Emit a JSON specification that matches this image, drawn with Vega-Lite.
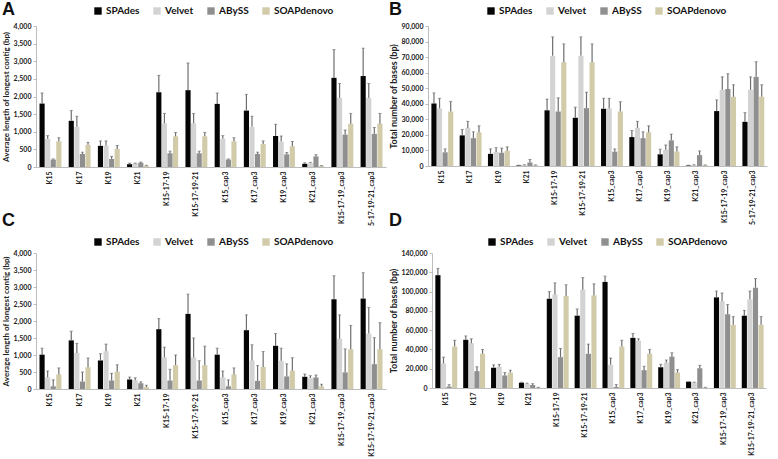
{
  "$schema": "https://vega.github.io/schema/vega-lite/v6.json",
  "background": "white",
  "padding": {"left": 2, "top": 1, "right": 5, "bottom": 2},
  "config": {
    "view": {"stroke": null},
    "axis": {"grid": false, "domainColor": "#bdbdbd", "tickColor": "#bdbdbd", "labelColor": "#222222", "titleColor": "#222222", "labelFont": "Lato", "titleFont": "Lato", "labelFontWeight": "bold", "titleFontWeight": "bold"},
    "axisY": {"labelOverlap": false, "format": ",.0f", "labelFontSize": 7, "tickSize": 3, "labelPadding": 2, "titlePadding": 3},
    "axisX": {"title": null, "labelAngle": -90, "labelFontSize": 7, "ticks": false, "labelPadding": 4},
    "legend": {"orient": "none", "direction": "horizontal", "columns": 4, "title": null, "symbolType": "square", "symbolSize": 55, "symbolStrokeWidth": 0, "labelFont": "Lato", "labelFontWeight": "bold", "labelFontSize": 10, "labelColor": "#111111", "columnPadding": 12, "labelOffset": 3},
    "title": {"font": "Liberation Sans", "fontWeight": "bold", "fontSize": 18, "anchor": "start", "frame": "bounds", "color": "#111111"}
  },
  "datasets": {
    "a": [
      {"assembly": "K15", "assembler": "SPAdes", "value": 1800, "upper": 2100},
      {"assembly": "K15", "assembler": "Velvet", "value": 800, "upper": 890},
      {"assembly": "K15", "assembler": "ABySS", "value": 210, "upper": 230},
      {"assembly": "K15", "assembler": "SOAPdenovo", "value": 730, "upper": 830},
      {"assembly": "K17", "assembler": "SPAdes", "value": 1310, "upper": 1600},
      {"assembly": "K17", "assembler": "Velvet", "value": 1140, "upper": 1440},
      {"assembly": "K17", "assembler": "ABySS", "value": 370, "upper": 420},
      {"assembly": "K17", "assembler": "SOAPdenovo", "value": 630, "upper": 700},
      {"assembly": "K19", "assembler": "SPAdes", "value": 600, "upper": 740},
      {"assembly": "K19", "assembler": "Velvet", "value": 610, "upper": 740},
      {"assembly": "K19", "assembler": "ABySS", "value": 230, "upper": 300},
      {"assembly": "K19", "assembler": "SOAPdenovo", "value": 510, "upper": 610},
      {"assembly": "K21", "assembler": "SPAdes", "value": 80, "upper": 110},
      {"assembly": "K21", "assembler": "Velvet", "value": 100, "upper": 110},
      {"assembly": "K21", "assembler": "ABySS", "value": 120, "upper": 140},
      {"assembly": "K21", "assembler": "SOAPdenovo", "value": 40, "upper": 50},
      {"assembly": "K15-17-19", "assembler": "SPAdes", "value": 2120, "upper": 2600},
      {"assembly": "K15-17-19", "assembler": "Velvet", "value": 1240, "upper": 1520},
      {"assembly": "K15-17-19", "assembler": "ABySS", "value": 390, "upper": 450},
      {"assembly": "K15-17-19", "assembler": "SOAPdenovo", "value": 870, "upper": 980},
      {"assembly": "K15-17-19-21", "assembler": "SPAdes", "value": 2180, "upper": 2950},
      {"assembly": "K15-17-19-21", "assembler": "Velvet", "value": 1240, "upper": 1520},
      {"assembly": "K15-17-19-21", "assembler": "ABySS", "value": 390, "upper": 450},
      {"assembly": "K15-17-19-21", "assembler": "SOAPdenovo", "value": 870, "upper": 980},
      {"assembly": "K15_cap3", "assembler": "SPAdes", "value": 1790, "upper": 2100},
      {"assembly": "K15_cap3", "assembler": "Velvet", "value": 800, "upper": 890},
      {"assembly": "K15_cap3", "assembler": "ABySS", "value": 210, "upper": 230},
      {"assembly": "K15_cap3", "assembler": "SOAPdenovo", "value": 730, "upper": 830},
      {"assembly": "K17_cap3", "assembler": "SPAdes", "value": 1600, "upper": 2060},
      {"assembly": "K17_cap3", "assembler": "Velvet", "value": 1140, "upper": 1440},
      {"assembly": "K17_cap3", "assembler": "ABySS", "value": 370, "upper": 420},
      {"assembly": "K17_cap3", "assembler": "SOAPdenovo", "value": 650, "upper": 740},
      {"assembly": "K19_cap3", "assembler": "SPAdes", "value": 880, "upper": 1210},
      {"assembly": "K19_cap3", "assembler": "Velvet", "value": 720, "upper": 880},
      {"assembly": "K19_cap3", "assembler": "ABySS", "value": 360, "upper": 410},
      {"assembly": "K19_cap3", "assembler": "SOAPdenovo", "value": 590, "upper": 720},
      {"assembly": "K21_cap3", "assembler": "SPAdes", "value": 90, "upper": 120},
      {"assembly": "K21_cap3", "assembler": "Velvet", "value": 110, "upper": 130},
      {"assembly": "K21_cap3", "assembler": "ABySS", "value": 300, "upper": 350},
      {"assembly": "K21_cap3", "assembler": "SOAPdenovo", "value": 30, "upper": 40},
      {"assembly": "K15-17-19_cap3", "assembler": "SPAdes", "value": 2530, "upper": 3330},
      {"assembly": "K15-17-19_cap3", "assembler": "Velvet", "value": 1960, "upper": 2370},
      {"assembly": "K15-17-19_cap3", "assembler": "ABySS", "value": 920, "upper": 1050},
      {"assembly": "K15-17-19_cap3", "assembler": "SOAPdenovo", "value": 1230, "upper": 1520},
      {"assembly": "5-17-19-21_cap3", "assembler": "SPAdes", "value": 2580, "upper": 3370},
      {"assembly": "5-17-19-21_cap3", "assembler": "Velvet", "value": 1960, "upper": 2370},
      {"assembly": "5-17-19-21_cap3", "assembler": "ABySS", "value": 940, "upper": 1120},
      {"assembly": "5-17-19-21_cap3", "assembler": "SOAPdenovo", "value": 1230, "upper": 1520}
    ],
    "b": [
      {"assembly": "K15", "assembler": "SPAdes", "value": 40200, "upper": 47000},
      {"assembly": "K15", "assembler": "Velvet", "value": 37000, "upper": 43500},
      {"assembly": "K15", "assembler": "ABySS", "value": 8800, "upper": 11000},
      {"assembly": "K15", "assembler": "SOAPdenovo", "value": 35000, "upper": 41500},
      {"assembly": "K17", "assembler": "SPAdes", "value": 19700, "upper": 23500},
      {"assembly": "K17", "assembler": "Velvet", "value": 24500, "upper": 28700},
      {"assembly": "K17", "assembler": "ABySS", "value": 17900, "upper": 22000},
      {"assembly": "K17", "assembler": "SOAPdenovo", "value": 21600, "upper": 25800},
      {"assembly": "K19", "assembler": "SPAdes", "value": 7800, "upper": 11000},
      {"assembly": "K19", "assembler": "Velvet", "value": 9000, "upper": 11800},
      {"assembly": "K19", "assembler": "ABySS", "value": 8500, "upper": 11500},
      {"assembly": "K19", "assembler": "SOAPdenovo", "value": 9800, "upper": 12300},
      {"assembly": "K21", "assembler": "SPAdes", "value": 300, "upper": 500},
      {"assembly": "K21", "assembler": "Velvet", "value": 500, "upper": 800},
      {"assembly": "K21", "assembler": "ABySS", "value": 2300, "upper": 4200},
      {"assembly": "K21", "assembler": "SOAPdenovo", "value": 500, "upper": 700},
      {"assembly": "K15-17-19", "assembler": "SPAdes", "value": 35800, "upper": 43000},
      {"assembly": "K15-17-19", "assembler": "Velvet", "value": 70800, "upper": 83000},
      {"assembly": "K15-17-19", "assembler": "ABySS", "value": 35000, "upper": 43800},
      {"assembly": "K15-17-19", "assembler": "SOAPdenovo", "value": 66700, "upper": 78500},
      {"assembly": "K15-17-19-21", "assembler": "SPAdes", "value": 31000, "upper": 37800},
      {"assembly": "K15-17-19-21", "assembler": "Velvet", "value": 70800, "upper": 83000},
      {"assembly": "K15-17-19-21", "assembler": "ABySS", "value": 37200, "upper": 47400},
      {"assembly": "K15-17-19-21", "assembler": "SOAPdenovo", "value": 66700, "upper": 78500},
      {"assembly": "K15_cap3", "assembler": "SPAdes", "value": 36800, "upper": 43500},
      {"assembly": "K15_cap3", "assembler": "Velvet", "value": 37000, "upper": 43500},
      {"assembly": "K15_cap3", "assembler": "ABySS", "value": 9200, "upper": 11000},
      {"assembly": "K15_cap3", "assembler": "SOAPdenovo", "value": 35000, "upper": 41300},
      {"assembly": "K17_cap3", "assembler": "SPAdes", "value": 18600, "upper": 22800},
      {"assembly": "K17_cap3", "assembler": "Velvet", "value": 24500, "upper": 28700},
      {"assembly": "K17_cap3", "assembler": "ABySS", "value": 17900, "upper": 22000},
      {"assembly": "K17_cap3", "assembler": "SOAPdenovo", "value": 21600, "upper": 25800},
      {"assembly": "K19_cap3", "assembler": "SPAdes", "value": 7500, "upper": 10800},
      {"assembly": "K19_cap3", "assembler": "Velvet", "value": 10500, "upper": 13500},
      {"assembly": "K19_cap3", "assembler": "ABySS", "value": 16500, "upper": 20500},
      {"assembly": "K19_cap3", "assembler": "SOAPdenovo", "value": 9300, "upper": 12300},
      {"assembly": "K21_cap3", "assembler": "SPAdes", "value": 300, "upper": 500},
      {"assembly": "K21_cap3", "assembler": "Velvet", "value": 500, "upper": 800},
      {"assembly": "K21_cap3", "assembler": "ABySS", "value": 7000, "upper": 9700},
      {"assembly": "K21_cap3", "assembler": "SOAPdenovo", "value": 500, "upper": 700},
      {"assembly": "K15-17-19_cap3", "assembler": "SPAdes", "value": 35300, "upper": 42500},
      {"assembly": "K15-17-19_cap3", "assembler": "Velvet", "value": 49000, "upper": 57300},
      {"assembly": "K15-17-19_cap3", "assembler": "ABySS", "value": 49500, "upper": 59300},
      {"assembly": "K15-17-19_cap3", "assembler": "SOAPdenovo", "value": 44500, "upper": 52200},
      {"assembly": "5-17-19-21_cap3", "assembler": "SPAdes", "value": 28400, "upper": 34300},
      {"assembly": "5-17-19-21_cap3", "assembler": "Velvet", "value": 49000, "upper": 57300},
      {"assembly": "5-17-19-21_cap3", "assembler": "ABySS", "value": 57300, "upper": 67000},
      {"assembly": "5-17-19-21_cap3", "assembler": "SOAPdenovo", "value": 44500, "upper": 52200}
    ],
    "c": [
      {"assembly": "K15", "assembler": "SPAdes", "value": 1010, "upper": 1200},
      {"assembly": "K15", "assembler": "Velvet", "value": 340, "upper": 530},
      {"assembly": "K15", "assembler": "ABySS", "value": 80, "upper": 270},
      {"assembly": "K15", "assembler": "SOAPdenovo", "value": 430, "upper": 620},
      {"assembly": "K17", "assembler": "SPAdes", "value": 1430, "upper": 1700},
      {"assembly": "K17", "assembler": "Velvet", "value": 1060, "upper": 1340},
      {"assembly": "K17", "assembler": "ABySS", "value": 220, "upper": 500},
      {"assembly": "K17", "assembler": "SOAPdenovo", "value": 640, "upper": 910},
      {"assembly": "K19", "assembler": "SPAdes", "value": 840, "upper": 1040},
      {"assembly": "K19", "assembler": "Velvet", "value": 1110, "upper": 1320},
      {"assembly": "K19", "assembler": "ABySS", "value": 250, "upper": 460},
      {"assembly": "K19", "assembler": "SOAPdenovo", "value": 510, "upper": 710},
      {"assembly": "K21", "assembler": "SPAdes", "value": 280, "upper": 350},
      {"assembly": "K21", "assembler": "Velvet", "value": 260, "upper": 330},
      {"assembly": "K21", "assembler": "ABySS", "value": 170, "upper": 210},
      {"assembly": "K21", "assembler": "SOAPdenovo", "value": 60, "upper": 110},
      {"assembly": "K15-17-19", "assembler": "SPAdes", "value": 1760, "upper": 2070},
      {"assembly": "K15-17-19", "assembler": "Velvet", "value": 930, "upper": 1230},
      {"assembly": "K15-17-19", "assembler": "ABySS", "value": 250, "upper": 580},
      {"assembly": "K15-17-19", "assembler": "SOAPdenovo", "value": 700, "upper": 1000},
      {"assembly": "K15-17-19-21", "assembler": "SPAdes", "value": 2210, "upper": 2790},
      {"assembly": "K15-17-19-21", "assembler": "Velvet", "value": 930, "upper": 1500},
      {"assembly": "K15-17-19-21", "assembler": "ABySS", "value": 250, "upper": 830},
      {"assembly": "K15-17-19-21", "assembler": "SOAPdenovo", "value": 700, "upper": 1260},
      {"assembly": "K15_cap3", "assembler": "SPAdes", "value": 1010, "upper": 1200},
      {"assembly": "K15_cap3", "assembler": "Velvet", "value": 340, "upper": 530},
      {"assembly": "K15_cap3", "assembler": "ABySS", "value": 80, "upper": 270},
      {"assembly": "K15_cap3", "assembler": "SOAPdenovo", "value": 430, "upper": 620},
      {"assembly": "K17_cap3", "assembler": "SPAdes", "value": 1730, "upper": 2180},
      {"assembly": "K17_cap3", "assembler": "Velvet", "value": 840, "upper": 1300},
      {"assembly": "K17_cap3", "assembler": "ABySS", "value": 240, "upper": 690},
      {"assembly": "K17_cap3", "assembler": "SOAPdenovo", "value": 650, "upper": 1100},
      {"assembly": "K19_cap3", "assembler": "SPAdes", "value": 1270, "upper": 1630},
      {"assembly": "K19_cap3", "assembler": "Velvet", "value": 830, "upper": 1200},
      {"assembly": "K19_cap3", "assembler": "ABySS", "value": 370, "upper": 740},
      {"assembly": "K19_cap3", "assembler": "SOAPdenovo", "value": 540, "upper": 920},
      {"assembly": "K21_cap3", "assembler": "SPAdes", "value": 360, "upper": 440},
      {"assembly": "K21_cap3", "assembler": "Velvet", "value": 320, "upper": 390},
      {"assembly": "K21_cap3", "assembler": "ABySS", "value": 340, "upper": 410},
      {"assembly": "K21_cap3", "assembler": "SOAPdenovo", "value": 80, "upper": 140},
      {"assembly": "K15-17-19_cap3", "assembler": "SPAdes", "value": 2640, "upper": 3330},
      {"assembly": "K15-17-19_cap3", "assembler": "Velvet", "value": 1480, "upper": 2180},
      {"assembly": "K15-17-19_cap3", "assembler": "ABySS", "value": 490, "upper": 1180},
      {"assembly": "K15-17-19_cap3", "assembler": "SOAPdenovo", "value": 1170, "upper": 1870},
      {"assembly": "K15-17-19-21_cap3", "assembler": "SPAdes", "value": 2660, "upper": 3420},
      {"assembly": "K15-17-19-21_cap3", "assembler": "Velvet", "value": 1630, "upper": 2400},
      {"assembly": "K15-17-19-21_cap3", "assembler": "ABySS", "value": 730, "upper": 1510},
      {"assembly": "K15-17-19-21_cap3", "assembler": "SOAPdenovo", "value": 1170, "upper": 1950}
    ],
    "d": [
      {"assembly": "K15", "assembler": "SPAdes", "value": 117000, "upper": 124000},
      {"assembly": "K15", "assembler": "Velvet", "value": 25500, "upper": 32000},
      {"assembly": "K15", "assembler": "ABySS", "value": 1500, "upper": 3500},
      {"assembly": "K15", "assembler": "SOAPdenovo", "value": 43000, "upper": 49500},
      {"assembly": "K17", "assembler": "SPAdes", "value": 50000, "upper": 54000},
      {"assembly": "K17", "assembler": "Velvet", "value": 46500, "upper": 51000},
      {"assembly": "K17", "assembler": "ABySS", "value": 17500, "upper": 22000},
      {"assembly": "K17", "assembler": "SOAPdenovo", "value": 35500, "upper": 40000},
      {"assembly": "K19", "assembler": "SPAdes", "value": 21000, "upper": 24000},
      {"assembly": "K19", "assembler": "Velvet", "value": 22000, "upper": 24500},
      {"assembly": "K19", "assembler": "ABySS", "value": 13000, "upper": 16000},
      {"assembly": "K19", "assembler": "SOAPdenovo", "value": 16000, "upper": 18500},
      {"assembly": "K21", "assembler": "SPAdes", "value": 5500, "upper": 6000},
      {"assembly": "K21", "assembler": "Velvet", "value": 4500, "upper": 5000},
      {"assembly": "K21", "assembler": "ABySS", "value": 3000, "upper": 4500},
      {"assembly": "K21", "assembler": "SOAPdenovo", "value": 500, "upper": 700},
      {"assembly": "K15-17-19", "assembler": "SPAdes", "value": 92500, "upper": 100000},
      {"assembly": "K15-17-19", "assembler": "Velvet", "value": 97000, "upper": 109000},
      {"assembly": "K15-17-19", "assembler": "ABySS", "value": 32000, "upper": 41000},
      {"assembly": "K15-17-19", "assembler": "SOAPdenovo", "value": 95500, "upper": 107000},
      {"assembly": "K15-17-19-21", "assembler": "SPAdes", "value": 75000, "upper": 82000},
      {"assembly": "K15-17-19-21", "assembler": "Velvet", "value": 102000, "upper": 114500},
      {"assembly": "K15-17-19-21", "assembler": "ABySS", "value": 35500, "upper": 45500},
      {"assembly": "K15-17-19-21", "assembler": "SOAPdenovo", "value": 96000, "upper": 108000},
      {"assembly": "K15_cap3", "assembler": "SPAdes", "value": 110000, "upper": 116000},
      {"assembly": "K15_cap3", "assembler": "Velvet", "value": 24000, "upper": 31000},
      {"assembly": "K15_cap3", "assembler": "ABySS", "value": 1000, "upper": 3500},
      {"assembly": "K15_cap3", "assembler": "SOAPdenovo", "value": 43000, "upper": 49500},
      {"assembly": "K17_cap3", "assembler": "SPAdes", "value": 52000, "upper": 56500},
      {"assembly": "K17_cap3", "assembler": "Velvet", "value": 49000, "upper": 51000},
      {"assembly": "K17_cap3", "assembler": "ABySS", "value": 18500, "upper": 22500},
      {"assembly": "K17_cap3", "assembler": "SOAPdenovo", "value": 35500, "upper": 40000},
      {"assembly": "K19_cap3", "assembler": "SPAdes", "value": 21500, "upper": 24500},
      {"assembly": "K19_cap3", "assembler": "Velvet", "value": 26500, "upper": 29000},
      {"assembly": "K19_cap3", "assembler": "ABySS", "value": 32500, "upper": 36500},
      {"assembly": "K19_cap3", "assembler": "SOAPdenovo", "value": 16000, "upper": 19000},
      {"assembly": "K21_cap3", "assembler": "SPAdes", "value": 6500, "upper": 6600},
      {"assembly": "K21_cap3", "assembler": "Velvet", "value": 5500, "upper": 6000},
      {"assembly": "K21_cap3", "assembler": "ABySS", "value": 20500, "upper": 23500},
      {"assembly": "K21_cap3", "assembler": "SOAPdenovo", "value": 500, "upper": 700},
      {"assembly": "K15-17-19_cap3", "assembler": "SPAdes", "value": 94000, "upper": 100500},
      {"assembly": "K15-17-19_cap3", "assembler": "Velvet", "value": 90000, "upper": 98500},
      {"assembly": "K15-17-19_cap3", "assembler": "ABySS", "value": 76500, "upper": 86500},
      {"assembly": "K15-17-19_cap3", "assembler": "SOAPdenovo", "value": 65500, "upper": 74000},
      {"assembly": "K15-17-19-21_cap3", "assembler": "SPAdes", "value": 75000, "upper": 80500},
      {"assembly": "K15-17-19-21_cap3", "assembler": "Velvet", "value": 92000, "upper": 100500},
      {"assembly": "K15-17-19-21_cap3", "assembler": "ABySS", "value": 104000, "upper": 113500},
      {"assembly": "K15-17-19-21_cap3", "assembler": "SOAPdenovo", "value": 65500, "upper": 74000}
    ]
  },
  "spacing": -14,
  "resolve": {"scale": {"color": "independent"}, "legend": {"color": "independent"}},
  "vconcat": [
    {
      "spacing": 3,
      "resolve": {"scale": {"color": "independent"}, "legend": {"color": "independent"}},
      "hconcat": [
        {
          "width": 350, "height": 141,
          "title": {"text": "A", "offset": -13},
          "data": {"name": "a"},
          "encoding": {
            "x": {"field": "assembly", "type": "nominal", "sort": null, "scale": {"paddingInner": 0.25, "paddingOuter": 0.12}},
            "xOffset": {"field": "assembler", "type": "nominal", "sort": ["SPAdes", "Velvet", "ABySS", "SOAPdenovo"], "scale": {"paddingInner": 0.08}},
            "y": {"field": "value", "type": "quantitative", "scale": {"domain": [0, 4000]}, "axis": {"title": "Average length of longest contig (bp)", "values": [0, 500, 1000, 1500, 2000, 2500, 3000, 3500, 4000], "labelOverlap": false, "titleFontSize": 8}}
          },
          "layer": [
            {"mark": {"type": "bar"}, "encoding": {
              "color": {"field": "assembler", "type": "nominal", "sort": ["SPAdes", "Velvet", "ABySS", "SOAPdenovo"], "scale": {"domain": ["SPAdes", "Velvet", "ABySS", "SOAPdenovo"], "range": ["#050505", "#d3d3d3", "#8f8f8f", "#d1cbaa"]}, "legend": {"legendX": 57, "legendY": -20}}
            }},
            {"mark": {"type": "rule", "color": "#6e6e6e", "strokeWidth": 1.2}, "encoding": {"y2": {"field": "upper"}}},
            {"mark": {"type": "tick", "color": "#6e6e6e", "size": 3, "thickness": 1}, "encoding": {"y": {"field": "upper", "type": "quantitative", "axis": {"title": "Average length of longest contig (bp)", "values": [0, 500, 1000, 1500, 2000, 2500, 3000, 3500, 4000], "labelOverlap": false, "titleFontSize": 8}}}},
            {"data": {"values": [{"label": "21-22nt"}]}, "mark": {"type": "text", "align": "left", "baseline": "middle", "font": "Liberation Sans", "fontSize": 13, "color": "#111111", "dx": 10}, "encoding": {"x": {"datum": "K15"}, "xOffset": null, "y": {"datum": 3234}, "text": {"field": "label"}}}
          ]
        },
        {
          "width": 339, "height": 140,
          "title": {"text": "B", "offset": -13},
          "data": {"name": "b"},
          "encoding": {
            "x": {"field": "assembly", "type": "nominal", "sort": null, "scale": {"paddingInner": 0.25, "paddingOuter": 0.12}},
            "xOffset": {"field": "assembler", "type": "nominal", "sort": ["SPAdes", "Velvet", "ABySS", "SOAPdenovo"], "scale": {"paddingInner": 0.08}},
            "y": {"field": "value", "type": "quantitative", "scale": {"domain": [0, 90000]}, "axis": {"title": "Total number of bases (bp)", "values": [0, 10000, 20000, 30000, 40000, 50000, 60000, 70000, 80000, 90000], "labelOverlap": false, "titleFontSize": 9}}
          },
          "layer": [
            {"mark": {"type": "bar"}, "encoding": {
              "color": {"field": "assembler", "type": "nominal", "sort": ["SPAdes", "Velvet", "ABySS", "SOAPdenovo"], "scale": {"domain": ["SPAdes", "Velvet", "ABySS", "SOAPdenovo"], "range": ["#050505", "#d3d3d3", "#8f8f8f", "#d1cbaa"]}, "legend": {"legendX": 58, "legendY": -20}}
            }},
            {"mark": {"type": "rule", "color": "#6e6e6e", "strokeWidth": 1.2}, "encoding": {"y2": {"field": "upper"}}},
            {"mark": {"type": "tick", "color": "#6e6e6e", "size": 3, "thickness": 1}, "encoding": {"y": {"field": "upper", "type": "quantitative", "axis": {"title": "Total number of bases (bp)", "values": [0, 10000, 20000, 30000, 40000, 50000, 60000, 70000, 80000, 90000], "labelOverlap": false, "titleFontSize": 9}}}},
            {"data": {"values": [{"label": "21-22nt"}]}, "mark": {"type": "text", "align": "left", "baseline": "middle", "font": "Liberation Sans", "fontSize": 13, "color": "#111111", "dx": 19}, "encoding": {"x": {"datum": "K15"}, "xOffset": null, "y": {"datum": 72000}, "text": {"field": "label"}}}
          ]
        }
      ]
    },
    {
      "spacing": 3,
      "resolve": {"scale": {"color": "independent"}, "legend": {"color": "independent"}},
      "hconcat": [
        {
          "width": 350, "height": 136,
          "title": {"text": "C", "offset": 7},
          "data": {"name": "c"},
          "encoding": {
            "x": {"field": "assembly", "type": "nominal", "sort": null, "scale": {"paddingInner": 0.25, "paddingOuter": 0.12}},
            "xOffset": {"field": "assembler", "type": "nominal", "sort": ["SPAdes", "Velvet", "ABySS", "SOAPdenovo"], "scale": {"paddingInner": 0.08}},
            "y": {"field": "value", "type": "quantitative", "scale": {"domain": [0, 4000]}, "axis": {"title": "Average length of longest contig (bp)", "values": [0, 500, 1000, 1500, 2000, 2500, 3000, 3500, 4000], "labelOverlap": false, "titleFontSize": 8}}
          },
          "layer": [
            {"mark": {"type": "bar"}, "encoding": {
              "color": {"field": "assembler", "type": "nominal", "sort": ["SPAdes", "Velvet", "ABySS", "SOAPdenovo"], "scale": {"domain": ["SPAdes", "Velvet", "ABySS", "SOAPdenovo"], "range": ["#050505", "#d3d3d3", "#8f8f8f", "#d1cbaa"]}, "legend": {"legendX": 57, "legendY": -16}}
            }},
            {"mark": {"type": "rule", "color": "#6e6e6e", "strokeWidth": 1.2}, "encoding": {"y2": {"field": "upper"}}},
            {"mark": {"type": "tick", "color": "#6e6e6e", "size": 3, "thickness": 1}, "encoding": {"y": {"field": "upper", "type": "quantitative", "axis": {"title": "Average length of longest contig (bp)", "values": [0, 500, 1000, 1500, 2000, 2500, 3000, 3500, 4000], "labelOverlap": false, "titleFontSize": 8}}}},
            {"data": {"values": [{"label": "21-25nt"}]}, "mark": {"type": "text", "align": "left", "baseline": "middle", "font": "Liberation Sans", "fontSize": 13, "color": "#111111", "dx": 8}, "encoding": {"x": {"datum": "K15"}, "xOffset": null, "y": {"datum": 3310}, "text": {"field": "label"}}}
          ]
        },
        {
          "width": 334, "height": 135,
          "title": {"text": "D", "offset": 7},
          "data": {"name": "d"},
          "encoding": {
            "x": {"field": "assembly", "type": "nominal", "sort": null, "scale": {"paddingInner": 0.25, "paddingOuter": 0.12}},
            "xOffset": {"field": "assembler", "type": "nominal", "sort": ["SPAdes", "Velvet", "ABySS", "SOAPdenovo"], "scale": {"paddingInner": 0.08}},
            "y": {"field": "value", "type": "quantitative", "scale": {"domain": [0, 140000]}, "axis": {"title": "Total number of bases (bp)", "values": [0, 20000, 40000, 60000, 80000, 100000, 120000, 140000], "labelOverlap": false, "titleFontSize": 9}}
          },
          "layer": [
            {"mark": {"type": "bar"}, "encoding": {
              "color": {"field": "assembler", "type": "nominal", "sort": ["SPAdes", "Velvet", "ABySS", "SOAPdenovo"], "scale": {"domain": ["SPAdes", "Velvet", "ABySS", "SOAPdenovo"], "range": ["#050505", "#d3d3d3", "#8f8f8f", "#d1cbaa"]}, "legend": {"legendX": 55, "legendY": -16}}
            }},
            {"mark": {"type": "rule", "color": "#6e6e6e", "strokeWidth": 1.2}, "encoding": {"y2": {"field": "upper"}}},
            {"mark": {"type": "tick", "color": "#6e6e6e", "size": 3, "thickness": 1}, "encoding": {"y": {"field": "upper", "type": "quantitative", "axis": {"title": "Total number of bases (bp)", "values": [0, 20000, 40000, 60000, 80000, 100000, 120000, 140000], "labelOverlap": false, "titleFontSize": 9}}}},
            {"data": {"values": [{"label": "21-25nt"}]}, "mark": {"type": "text", "align": "left", "baseline": "middle", "font": "Liberation Sans", "fontSize": 13, "color": "#111111", "dx": 14}, "encoding": {"x": {"datum": "K15"}, "xOffset": null, "y": {"datum": 119300}, "text": {"field": "label"}}}
          ]
        }
      ]
    }
  ]
}
